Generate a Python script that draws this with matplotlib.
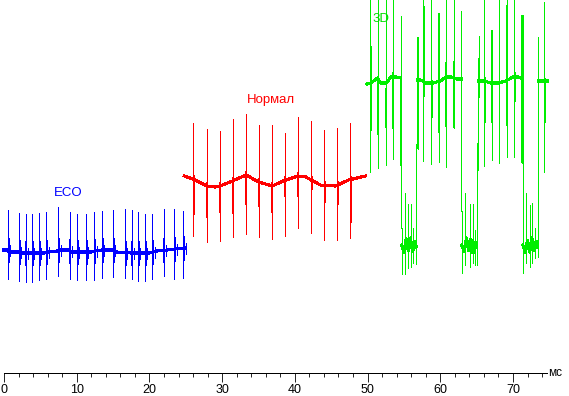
import numpy as np
import matplotlib
matplotlib.use("Agg")
import matplotlib.pyplot as plt

# ECO (blue), time in ms, amplitude in arbitrary units
eco_base_t = [0, 0.5, 0.7, 2.0, 2.2, 5.5, 6.0, 7.3, 7.6, 8.8, 9.2, 12.0, 12.5, 13.4,
              15.0, 15.5, 17.5, 20.0, 21.0, 22.5, 23.5, 24.9]
eco_base = [123, 123, 121, 121, 120, 120, 121, 122, 123, 123, 121, 121, 122, 123,
            123, 121, 120, 120, 122, 123, 124, 125]
eco_t = [0.54, 2.06, 2.98, 3.85, 4.81, 5.83, 7.49, 9.01, 10.06, 11.26, 12.43, 13.50,
         15.02, 16.68, 17.56, 18.47, 19.43, 20.40, 21.97, 23.43, 24.68]
eco_top = [163, 160, 159, 159, 160, 161, 166, 161, 159, 159, 161, 162, 163, 164, 163,
           161, 159, 159, 164, 164, 162]
eco_bot = [94, 92, 91, 91, 93, 94, 97, 94, 93, 93, 93, 95, 96, 95, 94, 92, 92, 94, 97,
           94, 95]

# Нормал (red)
norm_base_t = [24.8, 26.3, 27.9, 29.0, 29.7, 31.4, 33.3, 35.0, 36.9, 38.4, 40.4, 41.5,
               43.5, 45.6, 47.4, 49.7]
norm_base = [197, 193, 187, 186, 187, 192, 198, 191, 187, 192, 197, 196, 188, 187, 193, 197]
norm_t = [26.06, 27.85, 29.64, 31.43, 33.23, 35.02, 36.81, 38.61, 40.40, 42.19, 43.99,
          45.78, 47.57]
norm_top = [250, 244, 242, 254, 259, 248, 248, 240, 256, 252, 243, 245, 250]
norm_bot = [137, 131, 132, 136, 139, 136, 134, 137, 145, 140, 133, 133, 135]
norm_stub = [158, 155, 160, 159, 168, 166, 160, 176, 176, 183, 170, 168, 150]

# 3D (green) - baseline pieces (None = break)
d3_base_t = [49.9, 50.5, 51.3, 51.8, 52.6, 53.2, 54.0, 54.5, None,
             54.7, 55.0, 55.3, 55.6, 55.9, 56.2, 56.5, 56.7, None,
             56.9, 57.3, 58.0, 59.0, 60.0, 60.8, 61.5, 62.3, 62.85, None,
             62.95, 63.3, 63.6, 63.9, 64.2, 64.5, 64.8, 65.0, None,
             65.3, 66.0, 67.0, 68.0, 69.0, 70.0, 70.8, 71.25, None,
             71.35, 71.7, 72.0, 72.3, 72.6, 72.9, 73.2, 73.4, None,
             73.5, 74.0, 74.8]
d3_base = [289, 290, 295, 290, 290, 296, 296, 295, None,
           128, 120, 134, 122, 135, 121, 132, 126, None,
           293, 293, 290, 290, 292, 296, 296, 294, 294, None,
           128, 121, 135, 122, 134, 120, 131, 126, None,
           292, 292, 290, 290, 292, 296, 296, 294, None,
           128, 120, 133, 121, 135, 122, 132, 126, None,
           292, 292, 292]
d3_t = [50.39, 51.43, 52.50, 53.50, 57.64, 58.75, 59.77, 60.81, 61.88, 66.06, 67.12,
        68.12, 69.14, 70.19, 74.33,
        54.61, 54.70, 62.88, 62.99, 71.21, 71.35,
        55.08, 55.57, 56.04, 56.26, 63.43, 64.08, 64.46, 64.77, 71.72, 72.28, 72.63, 73.0,
        56.68, 56.87, 65.0, 65.15, 65.28, 73.37, 73.5]
d3_top = [385, 385, 385, 385, 385, 385, 360, 385, 385, 385, 343, 385, 385, 385, 371,
          357, 145, 362, 162, 358, 358,
          180, 169, 169, 145, 180, 169, 169, 143, 180, 168, 170, 145,
          229, 336, 230, 315, 337, 281, 336]
d3_bot = [201, 205, 208, 214, 212, 209, 211, 206, 245, 207, 213, 210, 216, 216, 201,
          145, 99, 162, 100, 210, 100,
          99, 105, 106, 110, 108, 106, 110, 108, 110, 106, 110, 115,
          109, 224, 108, 203, 276, 116, 276]
d3_stub_t = [50.45, 51.5, 52.55, 53.55, 54.55, 56.9, 57.7, 58.8, 59.8, 60.85, 61.9,
             66.1, 67.15, 69.18, 70.23, 71.2, 74.38]
d3_stub_top = [327, 296, 285, 301, 296, 336, 367, 293, 360, 311, 312,
               296, 343, 368, 301, 358, 295]
d3_stub_bot = [242, 238, 245, 244, 207, 224, 276, 255, 240, 246, 245,
               250, 250, 247, 271, 210, 250]

blue, red, green = "#0000ff", "#ff0000", "#00ee00"

fig = plt.figure(figsize=(5.69, 3.96), dpi=100)
ax = fig.add_axes([0, 0, 1, 1])
ax.set_xlim(-0.55, 77.7)
ax.set_ylim(-23, 373)

aa = dict(antialiased=False)
thin, thick, base_lw = 0.5, 1.3, 1.5

# ECO
ax.plot(eco_base_t, eco_base, color=blue, lw=base_lw, **aa)
ax.vlines(eco_t, eco_bot, eco_top, color=blue, lw=thin, **aa)
eb = np.interp(eco_t, eco_base_t, eco_base)
ax.vlines(np.array(eco_t) + 0.1, eb - 13, eb + 12, color=blue, lw=thick, **aa)
ax.vlines(np.array(eco_t) + 0.3, eb - 6, eb + 5, color=blue, lw=thin, **aa)

# Нормал
ax.plot(norm_base_t, norm_base, color=red, lw=base_lw, **aa)
ax.vlines(norm_t, norm_bot, norm_top, color=red, lw=thin, **aa)
nb = np.interp(norm_t, norm_base_t, norm_base)
ax.vlines(np.array(norm_t) + 0.1, norm_stub, nb + 4, color=red, lw=thick, **aa)

# 3D
gt = np.array([np.nan if v is None else v for v in d3_base_t], dtype=float)
gv = np.array([np.nan if v is None else v for v in d3_base], dtype=float)
ax.plot(gt, gv, color=green, lw=base_lw, **aa)
ax.vlines(d3_t, d3_bot, d3_top, color=green, lw=thin, **aa)
ax.vlines(d3_stub_t, d3_stub_bot, d3_stub_top, color=green, lw=thick, **aa)

tf = dict(family=["Liberation Sans", "DejaVu Sans"], fontsize=9.5)
ax.text(8.8, 180, "ECO", color=blue, ha="center", va="center", **tf)
ax.text(36.7, 273, "Нормал", color=red, ha="center", va="center", **tf)
ax.text(51.8, 354, "3D", color="#00dd00", ha="center", va="center", **tf)

# x axis
for s in ["left", "right", "top"]:
    ax.spines[s].set_visible(False)
ax.spines["bottom"].set_position(("data", 0))
ax.spines["bottom"].set_bounds(0, 74.7)
ax.spines["bottom"].set_linewidth(0.5)
ax.spines["bottom"].set_antialiased(False)
ax.set_yticks([])
ax.set_xticks(np.arange(0, 71, 10))
ax.set_xticks(np.arange(0, 75, 2), minor=True)
ax.tick_params(axis="x", which="major", direction="out", length=6.7, width=0.6, pad=1)
ax.tick_params(axis="x", which="minor", direction="out", length=2.9, width=0.6)
for lab in ax.get_xticklabels():
    lab.set_family(["Liberation Sans Narrow", "Liberation Sans", "DejaVu Sans"])
    lab.set_fontsize(9)
ax.text(74.8, 0, "мс", ha="left", va="center", fontsize=8.5,
        family=["Liberation Sans", "DejaVu Sans"])

fig.savefig("out.png", dpi=100)
